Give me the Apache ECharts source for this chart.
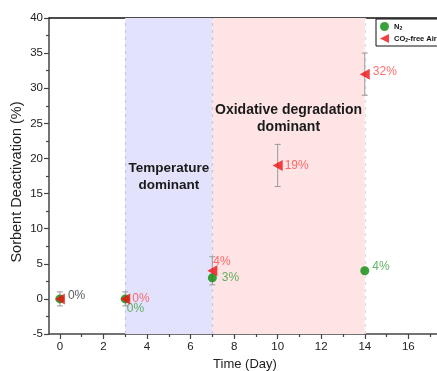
<!DOCTYPE html>
<html>
<head>
<meta charset="utf-8">
<script src="https://cdn.jsdelivr.net/npm/echarts@6/dist/echarts.min.js"></script>
<style>
  html, body { margin: 0; padding: 0; background: #fff; }
  #chart { width: 437px; height: 371px; }
</style>
</head>
<body>
<div id="chart"></div>
<script>
// Sorbent deactivation over time under N2 and CO2-free air
const n2Days = [0, 3, 7, 14];
const n2Values = [0, 0, 3, 4];
const n2Errors = [0, 0, 0, 0];
const airDays = [0, 3, 7, 10, 14];
const airValues = [0, 0, 4, 19, 32];
const airErrors = [1, 1, 2, 3, 3];
const xTickLabels = [0, 2, 4, 6, 8, 10, 12, 14, 16];
const xMinorTicks = [1, 3, 5, 7, 9, 11, 13, 15, 17];
const regionTemperature = [3, 7];
const regionOxidative = [7, 14];

const RED = '#f01010';
const RED_TEXT = '#ff4a4a';
const GREEN = '#0a8a0a';
const GREEN_TEXT = '#3d9f3d';
const FONT = 'Liberation Sans, Arial, sans-serif';

// per-point label placement
const airLabelCfg = [
  { show: true, color: '#333', offset: [-2, -3] },
  { show: true, color: RED_TEXT, offset: [-3, 0] },
  { show: true, color: RED_TEXT, offset: [-9, -9] },
  { show: true, color: RED_TEXT, offset: [-3, 0] },
  { show: true, color: RED_TEXT, offset: [-2, -2] }
];
const n2LabelCfg = [
  { show: false },
  { show: true, color: GREEN_TEXT, offset: [-8, 10] },
  { show: true, color: GREEN_TEXT, offset: [0, 0] },
  { show: true, color: GREEN_TEXT, offset: [-2, -4] }
];

function labelled(xs, ys, cfg) {
  return xs.map((x, i) => ({
    value: [x, ys[i]],
    label: Object.assign({
      position: 'right',
      formatter: ys[i] + '%',
      fontSize: 12,
      fontFamily: FONT
    }, cfg[i])
  }));
}

function errorData(xs, ys, es) {
  return xs.map((x, i) => [x, ys[i] - es[i], ys[i] + es[i]]).filter(d => d[2] > d[1]);
}

function renderErrorBar(params, api) {
  const x = api.value(0);
  const lo = api.coord([x, api.value(1)]);
  const hi = api.coord([x, api.value(2)]);
  const cap = 3;
  const style = { stroke: '#9a9a9a', lineWidth: 1 };
  return {
    type: 'group',
    children: [
      { type: 'line', shape: { x1: lo[0], y1: lo[1], x2: hi[0], y2: hi[1] }, style },
      { type: 'line', shape: { x1: lo[0] - cap, y1: lo[1], x2: lo[0] + cap, y2: lo[1] }, style },
      { type: 'line', shape: { x1: hi[0] - cap, y1: hi[1], x2: hi[0] + cap, y2: hi[1] }, style }
    ]
  };
}

const chart = echarts.init(document.getElementById('chart'), null, { renderer: 'canvas' });

const axisText = { color: '#222', fontSize: 11.5, fontFamily: FONT };
const leftTriangle = 'path://M0,5 L10,0 L10,10 Z';

chart.setOption({
  animation: false,
  grid: { left: 49, top: 18, bottom: 37, right: -4, containLabel: false, outerBoundsMode: 'none' },
  graphic: [
    {
      type: 'text', x: 17, y: 182, rotation: Math.PI / 2,
      style: {
        text: 'Sorbent Deactivation (%)', fill: '#222',
        font: '14.5px ' + FONT, align: 'center', verticalAlign: 'middle'
      }
    }
  ],
  legend: {
    left: 376, top: 19, orient: 'vertical',
    backgroundColor: '#fff',
    borderColor: '#111', borderWidth: 1,
    padding: [3, 30, 3, 4],
    itemGap: 3, itemWidth: 9, itemHeight: 9,
    data: [
      { name: 'N2', icon: 'circle' },
      { name: 'CO2-free Air', icon: leftTriangle }
    ],
    formatter: name => name === 'N2' ? '{b|N}{s|2}' : '{b|CO}{s|2}{b|-free Air}',
    textStyle: {
      rich: {
        b: { fontSize: 7.5, fontWeight: 'bold', fontFamily: FONT, color: '#111' },
        s: { fontSize: 5, fontWeight: 'bold', fontFamily: FONT, color: '#111', verticalAlign: 'bottom', padding: [4, 0, 0, 0] }
      }
    }
  },
  xAxis: [
    {
      type: 'value', min: -0.5, max: 17.5,
      name: 'Time (Day)', nameLocation: 'middle', nameGap: 23,
      nameTextStyle: { fontSize: 13, fontFamily: FONT, color: '#222' },
      axisLine: { show: true, onZero: false, lineStyle: { color: '#444', width: 1.5 } },
      axisTick: { show: true, length: 5, customValues: xTickLabels, lineStyle: { color: '#444', width: 1.2 } },
      axisLabel: { customValues: xTickLabels, margin: 7, ...axisText },
      splitLine: { show: false }
    },
    {
      type: 'value', min: -0.5, max: 17.5, position: 'bottom',
      axisLine: { show: false, onZero: false },
      axisTick: { show: true, length: 3, customValues: xMinorTicks, lineStyle: { color: '#444', width: 1.2 } },
      axisLabel: { show: false },
      splitLine: { show: false }
    },
    {
      type: 'value', min: -0.5, max: 17.5, position: 'top',
      axisLine: { show: true, onZero: false, lineStyle: { color: '#111', width: 1.5 } },
      axisTick: { show: false }, axisLabel: { show: false }, splitLine: { show: false }
    }
  ],
  yAxis: {
    type: 'value', min: -5, max: 40, interval: 5,
    axisLine: { show: true, onZero: false, lineStyle: { color: '#444', width: 1.5 } },
    axisTick: { show: true, length: 5, lineStyle: { color: '#444', width: 1.2 } },
    minorTick: { show: true, splitNumber: 2, length: 3, lineStyle: { color: '#444', width: 1.2 } },
    axisLabel: { margin: 6, ...axisText },
    splitLine: { show: false }
  },
  series: [
    {
      name: 'regions', type: 'line', data: [], silent: true, z: 1,
      markArea: {
        silent: true, z: 1,
        itemStyle: { borderWidth: 0 },
        data: [
          [{ xAxis: regionTemperature[0], itemStyle: { color: '#e2e2fc' } }, { xAxis: regionTemperature[1] }],
          [{ xAxis: regionOxidative[0], itemStyle: { color: '#fee4e4' } }, { xAxis: regionOxidative[1] }]
        ]
      },
      markLine: {
        silent: true, z: 1, symbol: ['none', 'none'], label: { show: false },
        lineStyle: { type: [3, 4], width: 1.2 },
        data: [
          { xAxis: regionTemperature[0], lineStyle: { color: '#c6c6ee' } },
          { xAxis: regionOxidative[0], lineStyle: { color: '#cfc4dc' } },
          { xAxis: regionOxidative[1], lineStyle: { color: '#dcdcdc' } }
        ]
      },
      markPoint: {
        silent: true, z: 2, symbol: 'circle', symbolSize: 0,
        label: {
          show: true, position: 'inside', color: '#1a1a1a', fontWeight: 'bold',
          fontFamily: FONT, align: 'center', lineHeight: 17
        },
        data: [
          { coord: [5, 17.4], label: { formatter: 'Temperature\ndominant', fontSize: 13.5 } },
          { coord: [10.5, 25.6], label: { formatter: 'Oxidative degradation\ndominant', fontSize: 14, lineHeight: 17 } }
        ]
      }
    },
    {
      name: 'n2Err', type: 'custom', renderItem: renderErrorBar, z: 3,
      data: errorData(n2Days, n2Values, n2Errors), silent: true
    },
    {
      name: 'airErr', type: 'custom', renderItem: renderErrorBar, z: 3,
      data: errorData(airDays, airValues, airErrors), silent: true
    },
    {
      name: 'N2', type: 'scatter', symbol: 'circle', symbolSize: 9, z: 4,
      itemStyle: { color: GREEN },
      data: labelled(n2Days, n2Values, n2LabelCfg)
    },
    {
      name: 'CO2-free Air', type: 'scatter', symbol: 'triangle', symbolRotate: 90, symbolSize: [11, 10], z: 5,
      itemStyle: { color: RED },
      data: labelled(airDays, airValues, airLabelCfg)
    }
  ]
});
</script>
</body>
</html>
